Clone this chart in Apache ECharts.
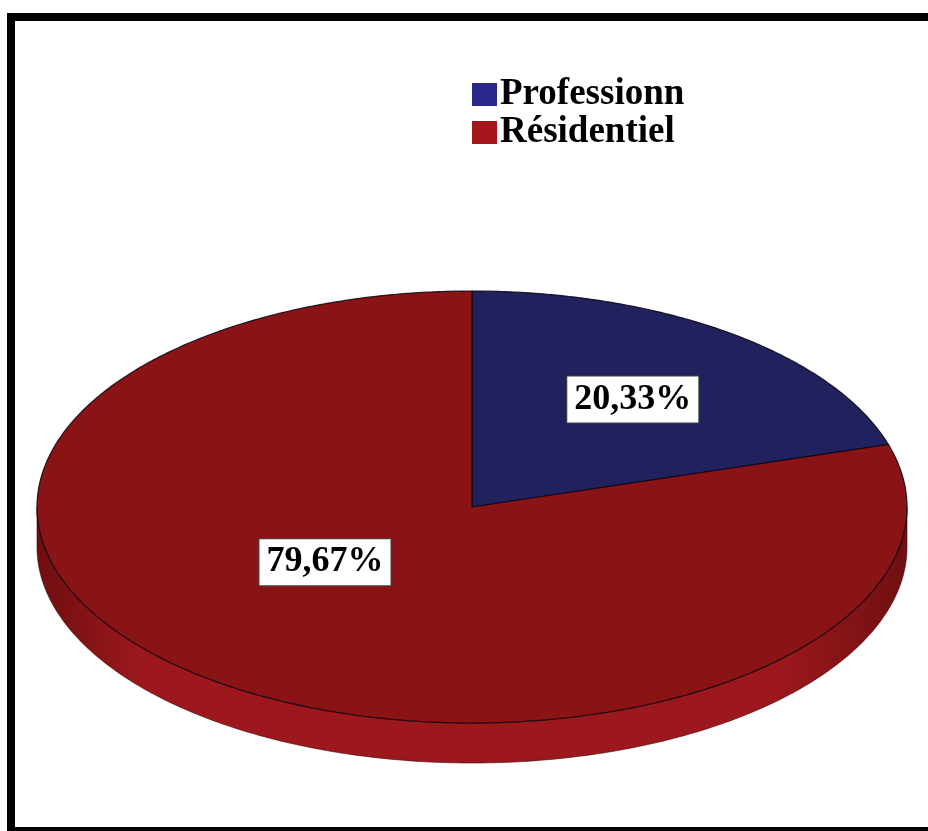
<!DOCTYPE html>
<html>
<head>
<meta charset="utf-8">
<style>
  html, body { margin: 0; padding: 0; background: #fff; }
  #chart { width: 928px; height: 831px; }
</style>
<script src="https://cdn.jsdelivr.net/npm/echarts@6/dist/echarts.min.js"></script>
</head>
<body>
<div id="chart"></div>
<script>
// Customer segments and their share of the total (percent)
const categories = ['Professionn', 'Résidentiel'];
const shares = [20.33, 79.67];
const shareLabels = ['20,33%', '79,67%'];

// Slice colours: upper face and rim
const topColors = ['#21215e', '#891315'];
const rimColors = ['#2c2c7a', '#9d181c'];

// Tilted-disc layout (pixels)
const disc = { cx: 472, cy: 507, rx: 435, ry: 216, depth: 40 };
// Where each label sits, as a fraction of the radii along its slice's mid-angle
const labelAnchor = [[0.62, 0.62], [0.567, 0.318]];

const total = shares.reduce((a, b) => a + b, 0);

// Point on the upper ellipse for angle t, measured clockwise from 12 o'clock
function rimPoint(t, dy) {
  return [disc.cx + disc.rx * Math.sin(t), disc.cy - disc.ry * Math.cos(t) + (dy || 0)];
}
function arc(a, b, dy) {
  const pts = [];
  const n = Math.max(2, Math.ceil(Math.abs(b - a) / (Math.PI / 360)));
  for (let k = 0; k <= n; k++) pts.push(rimPoint(a + (b - a) * k / n, dy));
  return pts;
}

function renderSlice(params, api) {
  const i = params.seriesIndex;
  const before = shares.slice(0, i).reduce((a, b) => a + b, 0);
  const start = before / total * Math.PI * 2;
  const end = start + api.value(0) / total * Math.PI * 2;
  const children = [];

  // visible rim: the front half of the disc
  const a = Math.max(start, Math.PI / 2);
  const b = Math.min(end, Math.PI * 1.5);
  if (a < b) {
    const pts = arc(a, b, 0).concat(arc(b, a, disc.depth));
    children.push({
      type: 'polygon',
      z2: 1,
      shape: { points: pts },
      style: {
        fill: new echarts.graphic.LinearGradient(0, 0, 1, 0, [
          { offset: 0, color: '#6e0e11' },
          { offset: 0.12, color: rimColors[i] },
          { offset: 0.85, color: rimColors[i] },
          { offset: 1, color: '#700f12' }
        ]),
        stroke: 'rgba(60,5,8,0.6)',
        lineWidth: 1
      }
    });
  }

  // upper face
  const facePts = [[disc.cx, disc.cy]].concat(arc(start, end, 0));
  children.push({
    type: 'polygon',
    z2: 2,
    shape: { points: facePts },
    style: { fill: topColors[i], stroke: 'rgba(10,5,20,0.85)', lineWidth: 1.2 }
  });

  // value label in a white box
  const mid = (start + end) / 2;
  const [kx, ky] = labelAnchor[i];
  children.push({
    type: 'text',
    z2: 3,
    style: {
      text: shareLabels[i],
      x: disc.cx + disc.rx * kx * Math.sin(mid),
      y: disc.cy - disc.ry * ky * Math.cos(mid),
      align: 'center',
      verticalAlign: 'middle',
      font: 'bold 36px "Liberation Serif", "DejaVu Serif", serif',
      fill: '#000',
      backgroundColor: '#fff',
      borderColor: '#444',
      borderWidth: 1,
      padding: [6, 7, 4, 7]
    }
  });

  return { type: 'group', children };
}

const chart = echarts.init(document.getElementById('chart'), null, { renderer: 'canvas' });

chart.setOption({
  backgroundColor: '#fff',
  animation: false,
  legend: {
    orient: 'vertical',
    left: 467,
    top: 71,
    itemWidth: 25,
    itemHeight: 23,
    itemGap: 1,
    icon: 'rect',
    data: categories,
    textStyle: {
      fontFamily: '"Liberation Serif", "DejaVu Serif", serif',
      fontWeight: 'bold',
      fontSize: 37,
      color: '#000',
      padding: [0, 0, 0, -2]
    }
  },
  graphic: [{
    type: 'rect',
    z: -1,
    shape: { x: 11, y: 17, width: 1000, height: 814 },
    style: { fill: 'none', stroke: '#000', lineWidth: 8 }
  }],
  series: categories.map((name, i) => ({
    type: 'custom',
    name: name,
    coordinateSystem: 'none',
    itemStyle: { color: i === 0 ? '#28288a' : '#a3161a' },
    renderItem: renderSlice,
    data: [[shares[i]]]
  }))
});
</script>
</body>
</html>
